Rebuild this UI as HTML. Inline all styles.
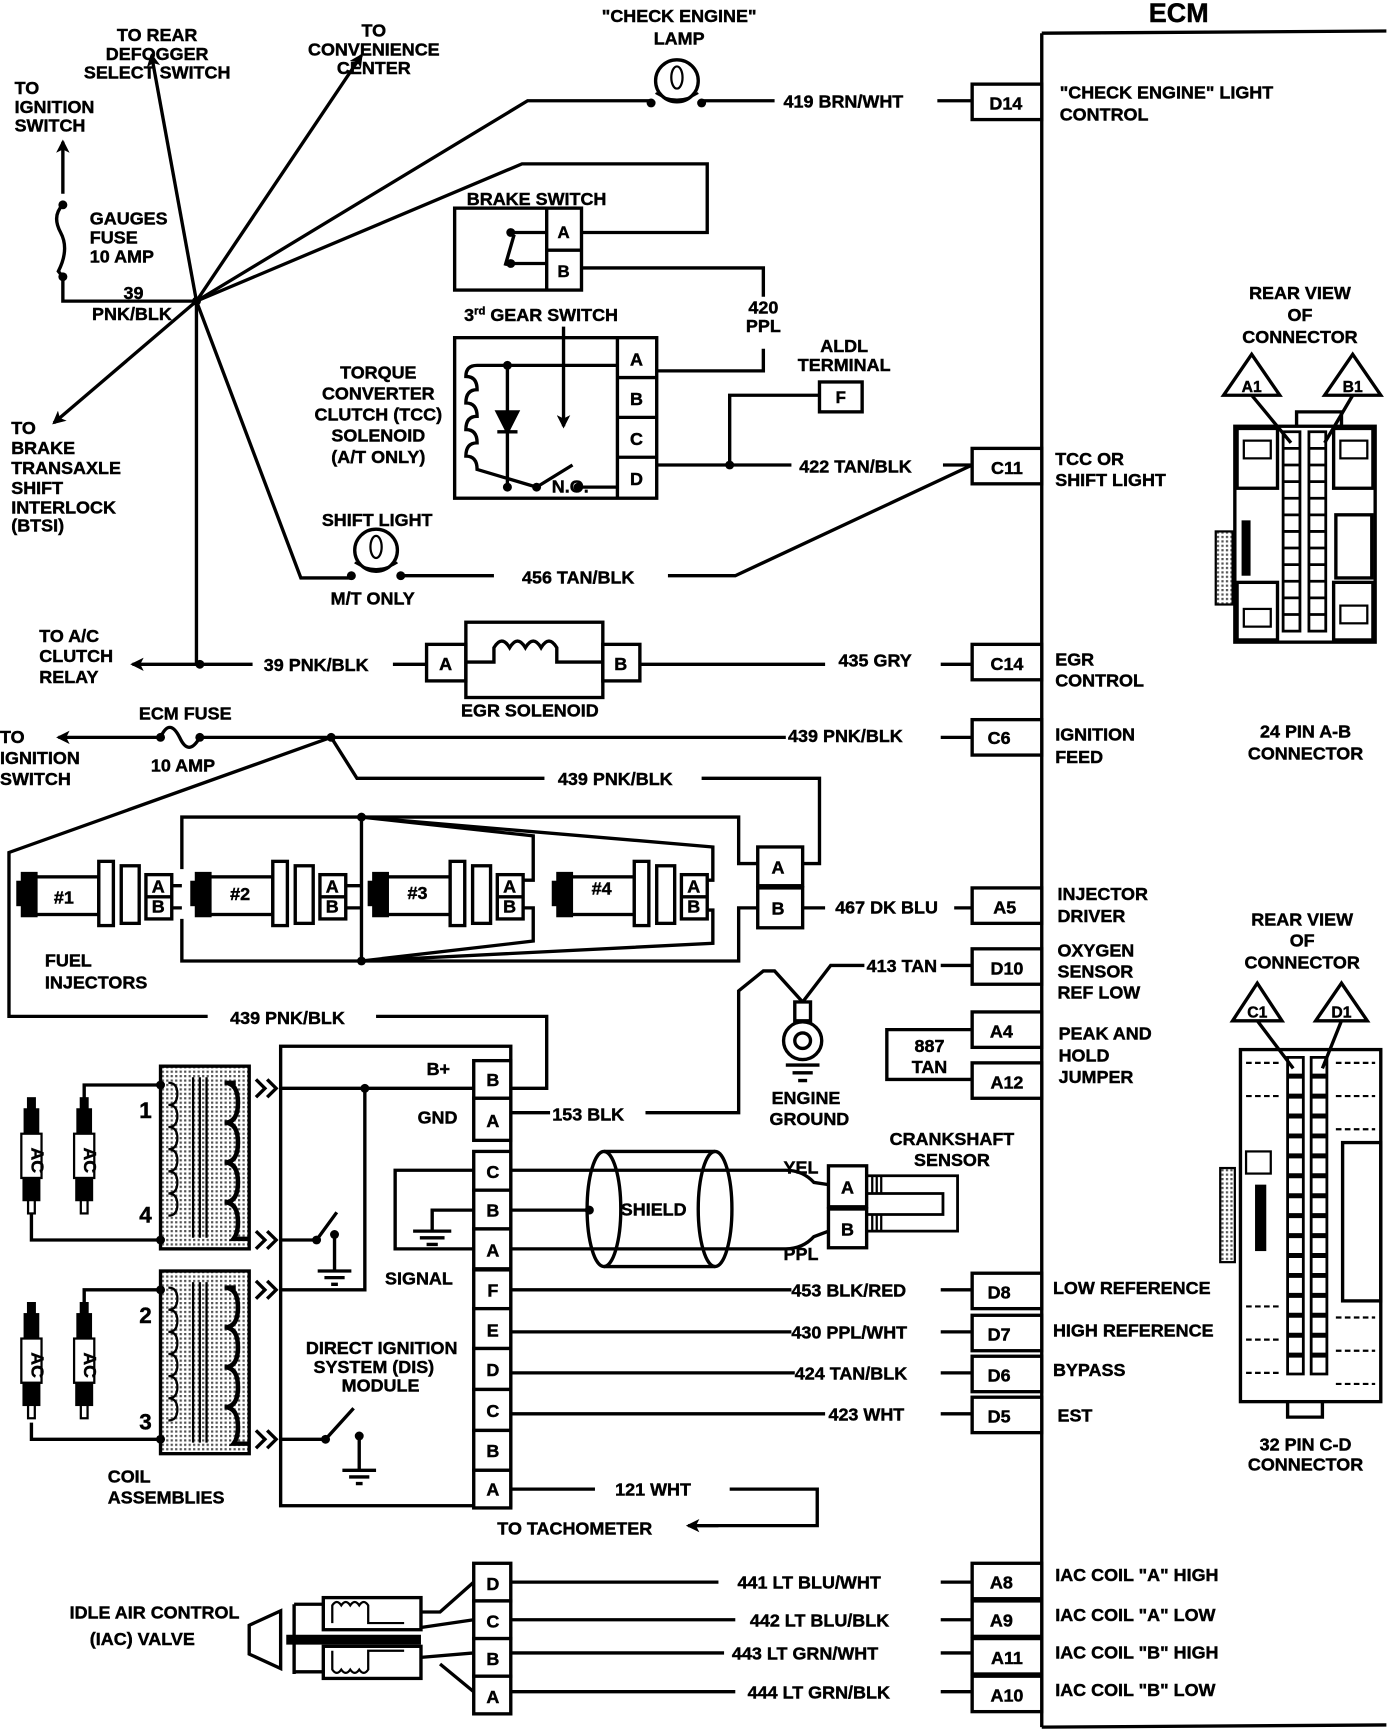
<!DOCTYPE html>
<html><head><meta charset="utf-8"><style>
html,body{margin:0;padding:0;background:#fff}
svg{display:block}
text{font-family:"Liberation Sans",sans-serif;font-weight:bold;font-size:16px;fill:#000;stroke:#000;stroke-width:0.4}
.m{text-anchor:middle}
</style></head><body>
<svg width="1392" height="1736" viewBox="0 0 1240 1568" preserveAspectRatio="none" xmlns="http://www.w3.org/2000/svg">
<defs>
<marker id="ar" markerWidth="12" markerHeight="12" refX="10" refY="6" orient="auto" markerUnits="userSpaceOnUse"><path d="M0,0 L12,6 L0,12 L3,6 Z" fill="#000"/></marker>
<pattern id="dots" width="4" height="4" patternUnits="userSpaceOnUse"><rect width="4" height="4" fill="#fff"/><rect width="2" height="2" fill="#555"/></pattern>
<g id="inj" stroke="#000" stroke-width="3" fill="#fff">
<rect x="-4" y="797" width="6" height="20" fill="#000"/>
<rect x="0" y="789" width="12" height="38" fill="#000"/>
<rect x="12" y="792" width="56" height="34"/>
<rect x="68" y="778" width="13" height="58"/>
<rect x="88" y="782" width="16" height="52"/>
<rect x="110" y="790" width="23" height="40"/>
<line x1="110" y1="810" x2="133" y2="810"/>
</g>
<g id="plug" stroke="#000" stroke-width="2" fill="#fff">
<rect x="-3" y="992" width="6" height="10" fill="#000"/>
<rect x="-6" y="1002" width="12" height="22" fill="#000"/>
<rect x="-9" y="1024" width="18" height="40"/>
<rect x="-7" y="1064" width="14" height="20" fill="#000"/>
<rect x="-3" y="1084" width="6" height="12"/>
</g>
<g id="coil" stroke="#000" stroke-width="3" fill="none">
<rect x="143" y="0" width="79" height="165" fill="url(#dots)"/>
<line x1="172" y1="10" x2="172" y2="155" stroke-width="2"/>
<line x1="178" y1="10" x2="178" y2="155" stroke-width="2"/>
<line x1="184" y1="10" x2="184" y2="155" stroke-width="2"/>
<path d="M150,15 q8,0 8,10 q0,10 -8,10 q8,0 8,10 q0,10 -8,10 q8,0 8,10 q0,10 -8,10 q8,0 8,10 q0,10 -8,10 q8,0 8,10 q0,10 -8,10 q8,0 8,10 q0,10 -8,10" stroke-width="2"/>
<path d="M210,15 h-10 v0 q12,0 12,18 q0,18 -12,18 q12,0 12,18 q0,18 -12,18 q12,0 12,18 q0,18 -12,18 q12,0 12,18 q0,10 -4,15 h14" stroke-width="4"/>
</g>
</defs>

<g stroke="#000" stroke-width="3" fill="none">
<path d="M928,30 L1235,28 M928,30 L928,1560 M928,1560 L1235,1558"/>
<g fill="#fff">
<rect x="866" y="76" width="62" height="32"/>
<rect x="866" y="405" width="62" height="32"/>
<rect x="866" y="582" width="62" height="32"/>
<rect x="866" y="650" width="62" height="32"/>
<rect x="866" y="802" width="62" height="32"/>
<rect x="866" y="857" width="62" height="32"/>
<rect x="866" y="914" width="62" height="32"/>
<rect x="866" y="960" width="62" height="32"/>
<rect x="866" y="1150" width="62" height="32"/>
<rect x="866" y="1188" width="62" height="32"/>
<rect x="866" y="1225" width="62" height="32"/>
<rect x="866" y="1262" width="62" height="32"/>
<rect x="866" y="1412" width="62" height="32"/>
<rect x="866" y="1446" width="62" height="32"/>
<rect x="866" y="1480" width="62" height="32"/>
<rect x="866" y="1514" width="62" height="32"/>
</g>

<path d="M56,175 L56,128" marker-end="url(#ar)"/>
<path d="M56,185 q-10,10 -2,25 q8,15 -2,35 L56,250"/>
<path d="M56,250 L56,272 L175,272"/>
<path d="M175,272 L135,50" marker-end="url(#ar)"/>
<path d="M175,272 L322,50" marker-end="url(#ar)"/>
<path d="M175,272 L48,382" marker-end="url(#ar)"/>
<path d="M175,272 L470,91 L580,91"/>
<path d="M175,272 L465,148 L630,148 L630,210 L518,210"/>
<path d="M175,272 L268,522 L313,522"/>
<path d="M175,272 L175,600"/>
<circle cx="603" cy="73" r="19"/>
<ellipse cx="603" cy="70" rx="5" ry="10" stroke-width="2"/>
<path d="M584,84 q19,12 38,0" stroke-width="2"/>
<path d="M625,91 L690,91 M835,91 L866,91"/>
<rect x="405" y="188" width="113" height="74"/>
<path d="M487,188 L487,262 M487,226 L518,226"/>
<path d="M455,210 L487,210 M455,238 L487,238 M458,212 L450,240"/>
<path d="M518,242 L680,242 L680,268 M680,315 L680,335 L585,335"/>
<rect x="405" y="305" width="180" height="145"/>
<path d="M550,305 L550,450 M550,341 L585,341 M550,377 L585,377 M550,413 L585,413"/>
<path d="M550,330 L425,330 q-10,0 -10,10 q10,0 10,12 q-10,0 -10,12 q10,0 10,12 q-10,0 -10,12 q10,0 10,12 q-10,0 -10,12 q10,0 10,12 L478,440 M478,440 L510,420 M515,440 L550,440 M452,330 L452,440"/>
<path d="M443,390 L461,390 M443,372 L461,372 L452,390 Z" fill="#000"/>
<path d="M502,295 L502,385" marker-end="url(#ar)"/>
<path d="M585,420 L705,420 M840,420 L866,420 M650,420 L650,357 L730,357"/>
<rect x="730" y="345" width="38" height="27"/>
<circle cx="335" cy="497" r="19"/>
<ellipse cx="335" cy="494" rx="5" ry="10" stroke-width="2"/>
<path d="M316,508 q19,12 38,0" stroke-width="2"/>
<path d="M357,520 L440,520 M595,520 L655,520 L866,420"/>
<path d="M175,600 L118,600" marker-end="url(#ar)"/>
<path d="M175,600 L225,600 M350,600 L380,600"/>
<rect x="380" y="582" width="35" height="33" fill="#fff"/>
<rect x="537" y="582" width="33" height="33" fill="#fff"/>
<rect x="415" y="562" width="122" height="68"/>
<path d="M415,598 L440,598 L440,585 q7,-12 14,0 q7,-12 14,0 q7,-12 14,0 q7,-12 14,0 L496,598 L537,598"/>
<path d="M570,600 L735,600 M838,600 L866,600"/>
<path d="M140,666 L52,666" marker-end="url(#ar)"/>
<path d="M143,666 q8,-18 17,0 q8,18 18,0 L700,666 M838,666 L866,666"/>
<path d="M295,666 L318,703 L485,703 M625,703 L730,703 L730,780 L715,780"/>
<path d="M295,666 L8,770 L8,918 L185,918 M335,918 L487,918 L487,983 L455,983"/>
<rect x="675" y="765" width="40" height="35" fill="#fff"/>
<rect x="675" y="802" width="40" height="36" fill="#fff"/>
<path d="M715,820 L735,820 M850,820 L866,820"/>
<path d="M162,785 L162,738 L658,738 L658,780 L675,780 M162,830 L162,868 L658,868 L658,820 L675,820 M322,738 L322,868"/>
<path d="M322,738 L475,755 L475,795 L466,795 M322,738 L635,765 L635,795 L630,795 M322,868 L475,850 L475,820 L466,820 M322,868 L635,852 L635,822 L630,822"/>
<path d="M153,800 L162,800 M153,820 L162,820 M308,800 L322,800 M308,820 L322,820"/>
<path d="M866,872 L838,872 M770,872 L740,872 L715,905 L690,877 L680,877 L658,895 L658,1005 L575,1005 M490,1005 L455,1005"/>
<rect x="708" y="905" width="14" height="17" fill="#fff"/>
<circle cx="715" cy="940" r="17"/>
<circle cx="715" cy="940" r="7"/>
<path d="M700,962 L730,962 M706,969 L724,969 M711,976 L719,976"/>
<path d="M866,930 L790,930 L790,975 L866,975"/>
<rect x="250" y="945" width="205" height="415"/>
<g fill="#fff">
<rect x="422" y="958" width="33" height="34"/>
<rect x="422" y="992" width="33" height="38"/>
<rect x="422" y="1040" width="33" height="35"/>
<rect x="422" y="1075" width="33" height="35"/>
<rect x="422" y="1110" width="33" height="36"/>
<rect x="422" y="1147" width="33" height="35"/>
<rect x="422" y="1182" width="33" height="36"/>
<rect x="422" y="1218" width="33" height="37"/>
<rect x="422" y="1255" width="33" height="37"/>
<rect x="422" y="1292" width="33" height="36"/>
<rect x="422" y="1328" width="33" height="34"/>
</g>
<path d="M250,983 L422,983 M325,983 L325,1165 L250,1165"/>
<path d="M250,1120 L282,1120 L300,1095 M298,1115 L298,1148 M283,1148 L313,1148 M289,1154 L307,1154 M295,1160 L301,1160"/>
<path d="M250,1300 L290,1300 L315,1272 M320,1297 L320,1328 M305,1328 L335,1328 M311,1334 L329,1334 M317,1340 L323,1340"/>
<path d="M422,1057 L352,1057 L352,1128 L422,1128 M422,1093 L385,1093 L385,1112 M368,1112 L402,1112 M374,1118 L396,1118 M380,1124 L390,1124"/>
<path d="M228,975 l8,8 l-8,8 M238,975 l8,8 l-8,8 M228,1112 l8,8 l-8,8 M238,1112 l8,8 l-8,8 M228,1157 l8,8 l-8,8 M238,1157 l8,8 l-8,8 M228,1292 l8,8 l-8,8 M238,1292 l8,8 l-8,8"/>
<path d="M455,1057 L700,1057 Q715,1057 725,1068 L738,1070 M455,1128 L700,1128 Q715,1128 725,1117 L738,1112 M455,1093 L525,1093"/>
<ellipse cx="538" cy="1092" rx="15" ry="52"/>
<ellipse cx="637" cy="1092" rx="15" ry="52"/>
<path d="M538,1040 L637,1040 M538,1144 L637,1144"/>
<rect x="738" y="1053" width="34" height="37" fill="#fff"/>
<rect x="738" y="1092" width="34" height="35" fill="#fff"/>
<path d="M772,1062 L853,1062 L853,1112 L772,1112 M772,1078 L840,1078 L840,1097 L772,1097" stroke-width="2.5"/>
<path d="M777,1062 v16 M781,1062 v16 M785,1062 v16 M777,1097 v15 M781,1097 v15 M785,1097 v15" stroke-width="2"/>
<path d="M455,1165 L705,1165 M838,1165 L866,1165 M455,1203 L705,1203 M838,1203 L866,1203 M455,1240 L708,1240 M838,1240 L866,1240 M455,1277 L735,1277 M838,1277 L866,1277"/>
<path d="M455,1345 L530,1345 M650,1345 L728,1345 L728,1378 L615,1378"/>
<path d="M640,1378 L613,1378" marker-end="url(#ar)"/>
<use href="#coil" transform="translate(0,963)"/>
<use href="#coil" transform="translate(0,1148)"/>
<path d="M143,980 L75,980 L75,995 M143,1120 L28,1120 L28,1095 M143,1165 L75,1165 L75,1178 M143,1300 L28,1300 L28,1285"/>
<g fill="#fff">
<rect x="422" y="1412" width="33" height="34"/>
<rect x="422" y="1446" width="33" height="34"/>
<rect x="422" y="1480" width="33" height="34"/>
<rect x="422" y="1514" width="33" height="34"/>
</g>
<path d="M455,1429 L640,1429 M838,1429 L866,1429 M455,1463 L655,1463 M838,1463 L866,1463 M455,1493 L645,1493 M838,1493 L866,1493 M455,1528 L655,1528 M838,1528 L866,1528"/>
<rect x="288" y="1443" width="87" height="29"/>
<rect x="288" y="1487" width="87" height="29"/>
<path d="M296,1466 L296,1450 q4,-6 8,0 q4,-6 8,0 q4,-6 8,0 q4,-6 8,0 L328,1466 L360,1466 M296,1491 L296,1508 q4,6 8,0 q4,6 8,0 q4,6 8,0 q4,6 8,0 L328,1491 L360,1491" stroke-width="2"/>
<path d="M255,1481 L375,1481" stroke-width="9"/>
<path d="M222,1468 L250,1455 L250,1507 L222,1494 Z"/>
<path d="M262,1449 L288,1449 M262,1510 L288,1510 M262,1449 L262,1512"/>
<path d="M375,1456 L392,1456 L422,1429 M375,1470 L422,1463 M375,1497 L422,1493 M392,1503 L422,1528"/>

<path d="M1115,320 L1090,357 L1140,357 Z M1205,320 L1180,357 L1230,357 Z"/>
<path d="M1115,357 L1150,400 M1205,357 L1180,400"/>
<rect x="1100" y="385" width="125" height="195"/>
<path d="M1155,385 L1155,372 L1195,372 L1195,385" />
<rect x="1102" y="387" width="36" height="54"/>
<rect x="1108" y="398" width="24" height="16" stroke-width="2"/>
<rect x="1102" y="526" width="36" height="52"/>
<rect x="1108" y="550" width="24" height="16" stroke-width="2"/>
<rect x="1188" y="387" width="35" height="54"/>
<rect x="1194" y="398" width="24" height="16" stroke-width="2"/>
<rect x="1188" y="526" width="35" height="52"/>
<rect x="1194" y="547" width="24" height="16" stroke-width="2"/>
<rect x="1190" y="465" width="32" height="57"/>
<rect x="1083" y="480" width="15" height="66" fill="url(#dots)" stroke-width="2"/>
<rect x="1106" y="470" width="8" height="50" fill="#000" stroke="none"/>
<g stroke-width="2.5">
<path d="M1143,390 h15 v15 h-15 z M1143,405 h15 v15 h-15 z M1143,420 h15 v15 h-15 z M1143,435 h15 v15 h-15 z M1143,450 h15 v15 h-15 z M1143,465 h15 v15 h-15 z M1143,480 h15 v15 h-15 z M1143,495 h15 v15 h-15 z M1143,510 h15 v15 h-15 z M1143,525 h15 v15 h-15 z M1143,540 h15 v15 h-15 z M1143,555 h15 v15 h-15 z"/>
<path d="M1166,390 h15 v15 h-15 z M1166,405 h15 v15 h-15 z M1166,420 h15 v15 h-15 z M1166,435 h15 v15 h-15 z M1166,450 h15 v15 h-15 z M1166,465 h15 v15 h-15 z M1166,480 h15 v15 h-15 z M1166,495 h15 v15 h-15 z M1166,510 h15 v15 h-15 z M1166,525 h15 v15 h-15 z M1166,540 h15 v15 h-15 z M1166,555 h15 v15 h-15 z"/>
</g>
<path d="M1120,888 L1098,922 L1142,922 Z M1195,888 L1172,922 L1218,922 Z"/>
<path d="M1120,922 L1152,965 M1195,922 L1178,965"/>
<rect x="1105" y="948" width="125" height="318"/>
<rect x="1196" y="1032" width="34" height="143"/>
<rect x="1087" y="1055" width="13" height="85" fill="url(#dots)" stroke-width="2"/>
<rect x="1110" y="1040" width="22" height="20" stroke-width="2"/>
<rect x="1118" y="1070" width="10" height="60" fill="#000" stroke="none"/>
<path d="M1147,1266 L1147,1280 L1178,1280 L1178,1266"/>
<g stroke-width="2.5">
<path d="M1147,955 h14 v16 h-14 z M1147,973 h14 v16 h-14 z M1147,991 h14 v16 h-14 z M1147,1009 h14 v16 h-14 z M1147,1027 h14 v16 h-14 z M1147,1045 h14 v16 h-14 z M1147,1063 h14 v16 h-14 z M1147,1081 h14 v16 h-14 z M1147,1099 h14 v16 h-14 z M1147,1117 h14 v16 h-14 z M1147,1135 h14 v16 h-14 z M1147,1153 h14 v16 h-14 z M1147,1171 h14 v16 h-14 z M1147,1189 h14 v16 h-14 z M1147,1207 h14 v16 h-14 z M1147,1225 h14 v16 h-14 z"/>
<path d="M1168,955 h14 v16 h-14 z M1168,973 h14 v16 h-14 z M1168,991 h14 v16 h-14 z M1168,1009 h14 v16 h-14 z M1168,1027 h14 v16 h-14 z M1168,1045 h14 v16 h-14 z M1168,1063 h14 v16 h-14 z M1168,1081 h14 v16 h-14 z M1168,1099 h14 v16 h-14 z M1168,1117 h14 v16 h-14 z M1168,1135 h14 v16 h-14 z M1168,1153 h14 v16 h-14 z M1168,1171 h14 v16 h-14 z M1168,1189 h14 v16 h-14 z M1168,1207 h14 v16 h-14 z M1168,1225 h14 v16 h-14 z"/>
</g>
<path d="M1110,960 h30 M1110,990 h30 M1110,1180 h30 M1110,1210 h30 M1110,1240 h30 M1190,960 h35 M1190,990 h35 M1190,1020 h35 M1190,1190 h35 M1190,1220 h35 M1190,1250 h35" stroke-width="2" stroke-dasharray="5,3"/>
</g>

<g fill="#000">
<circle cx="175" cy="272" r="4"/><circle cx="56" cy="185" r="4"/><circle cx="56" cy="250" r="4"/>
<circle cx="580" cy="93" r="4"/><circle cx="625" cy="93" r="4"/>
<circle cx="313" cy="520" r="4"/><circle cx="357" cy="520" r="4"/>
<circle cx="455" cy="210" r="4"/><circle cx="455" cy="238" r="4"/>
<circle cx="452" cy="330" r="4"/><circle cx="452" cy="440" r="4"/><circle cx="478" cy="440" r="4"/><circle cx="515" cy="440" r="4"/>
<circle cx="650" cy="420" r="4"/><circle cx="178" cy="600" r="4"/>
<circle cx="143" cy="666" r="4"/><circle cx="178" cy="666" r="4"/><circle cx="295" cy="666" r="4"/>
<circle cx="322" cy="738" r="4"/><circle cx="322" cy="868" r="4"/>
<circle cx="325" cy="983" r="4"/><circle cx="282" cy="1120" r="4"/><circle cx="298" cy="1115" r="4"/>
<circle cx="290" cy="1300" r="4"/><circle cx="320" cy="1297" r="4"/><circle cx="525" cy="1093" r="4"/>
<circle cx="143" cy="980" r="4"/><circle cx="143" cy="1120" r="4"/><circle cx="143" cy="1165" r="4"/><circle cx="143" cy="1300" r="4"/>
</g>
<use href="#inj" transform="translate(20,0)"/>
<use href="#inj" transform="translate(175,0)"/>
<use href="#inj" transform="translate(333,0)"/>
<use href="#inj" transform="translate(497,0)"/>
<use href="#plug" transform="translate(28,0)"/>
<use href="#plug" transform="translate(75,0)"/>
<use href="#plug" transform="translate(28,185)"/>
<use href="#plug" transform="translate(75,185)"/>

<text class="m" x="1050" y="20" style="font-size:24px">ECM</text>
<text class="m" x="605" y="20">"CHECK ENGINE"</text>
<text class="m" x="605" y="40">LAMP</text>
<text class="m" x="140" y="37">TO REAR</text>
<text class="m" x="140" y="54">DEFOGGER</text>
<text class="m" x="140" y="71">SELECT  SWITCH</text>
<text class="m" x="333" y="33">TO</text>
<text class="m" x="333" y="50">CONVENIENCE</text>
<text class="m" x="333" y="67">CENTER</text>
<text x="13" y="85">TO</text><text x="13" y="102">IGNITION</text><text x="13" y="119">SWITCH</text>
<text x="80" y="203">GAUGES</text><text x="80" y="220">FUSE</text><text x="80" y="237">10 AMP</text>
<text x="110" y="270">39</text><text x="82" y="289">PNK/BLK</text>
<text x="10" y="392">TO</text><text x="10" y="410">BRAKE</text><text x="10" y="428">TRANSAXLE</text><text x="10" y="446">SHIFT</text><text x="10" y="464">INTERLOCK</text><text x="10" y="480">(BTSI)</text>
<text x="698" y="97">419 BRN/WHT</text>
<text class="m" x="896" y="99">D14</text>
<text x="944" y="89">"CHECK ENGINE" LIGHT</text><text x="944" y="109">CONTROL</text>
<text class="m" x="478" y="185">BRAKE SWITCH</text>
<text class="m" x="502" y="215" style="font-size:15px">A</text><text class="m" x="502" y="250" style="font-size:15px">B</text>
<text class="m" x="680" y="283">420</text><text class="m" x="680" y="300">PPL</text>
<text class="m" x="482" y="290">3<tspan style="font-size:10px" dy="-6">rd</tspan><tspan dy="6"> GEAR SWITCH</tspan></text>
<text class="m" x="752" y="318">ALDL</text><text class="m" x="752" y="335">TERMINAL</text>
<text class="m" x="749" y="364" style="font-size:15px">F</text>
<text class="m" x="337" y="342">TORQUE</text><text class="m" x="337" y="361">CONVERTER</text><text class="m" x="337" y="380">CLUTCH (TCC)</text><text class="m" x="337" y="399">SOLENOID</text><text class="m" x="337" y="418">(A/T ONLY)</text>
<text class="m" x="567" y="330">A</text><text class="m" x="567" y="366">B</text><text class="m" x="567" y="402">C</text><text class="m" x="567" y="438">D</text>
<text class="m" x="508" y="445">N.O.</text>
<text x="712" y="427">422 TAN/BLK</text>
<text class="m" x="897" y="428">C11</text>
<text x="940" y="420">TCC OR</text><text x="940" y="439">SHIFT LIGHT</text>
<text class="m" x="336" y="475">SHIFT LIGHT</text>
<text class="m" x="332" y="546">M/T ONLY</text>
<text x="465" y="527">456 TAN/BLK</text>
<text x="35" y="580">TO A/C</text><text x="35" y="598">CLUTCH</text><text x="35" y="617">RELAY</text>
<text x="235" y="606">39 PNK/BLK</text>
<text class="m" x="397" y="605">A</text><text class="m" x="553" y="605">B</text>
<text class="m" x="472" y="647">EGR SOLENOID</text>
<text x="747" y="602">435 GRY</text>
<text class="m" x="897" y="605">C14</text>
<text x="940" y="601">EGR</text><text x="940" y="620">CONTROL</text>
<text class="m" x="165" y="650">ECM FUSE</text>
<text class="m" x="163" y="697">10 AMP</text>
<text x="0" y="671">TO</text><text x="0" y="690">IGNITION</text><text x="0" y="709">SWITCH</text>
<text x="702" y="670">439 PNK/BLK</text>
<text class="m" x="890" y="672">C6</text>
<text x="940" y="669">IGNITION</text><text x="940" y="689">FEED</text>
<text x="497" y="709">439 PNK/BLK</text>
<text class="m" x="693" y="789">A</text><text class="m" x="693" y="826">B</text>
<text x="744" y="825">467 DK BLU</text>
<text class="m" x="895" y="825">A5</text>
<text x="942" y="813">INJECTOR</text><text x="942" y="833">DRIVER</text>
<text x="48" y="816">#1</text><text x="205" y="813">#2</text><text x="363" y="812">#3</text><text x="527" y="808">#4</text>
<g style="font-size:11px"><text class="m" x="141" y="806">A</text><text class="m" x="141" y="824">B</text><text class="m" x="296" y="806">A</text><text class="m" x="296" y="824">B</text><text class="m" x="454" y="806">A</text><text class="m" x="454" y="824">B</text><text class="m" x="618" y="806">A</text><text class="m" x="618" y="824">B</text></g>
<text x="40" y="873">FUEL</text><text x="40" y="893">INJECTORS</text>
<text x="772" y="878">413 TAN</text>
<text class="m" x="897" y="880">D10</text>
<text x="942" y="864">OXYGEN</text><text x="942" y="883">SENSOR</text><text x="942" y="902">REF LOW</text>
<text x="205" y="925">439 PNK/BLK</text>
<text class="m" x="892" y="937">A4</text><text class="m" x="897" y="983">A12</text>
<text class="m" x="828" y="950">887</text><text class="m" x="828" y="969">TAN</text>
<text x="943" y="939">PEAK AND</text><text x="943" y="959">HOLD</text><text x="943" y="978">JUMPER</text>
<text class="m" x="718" y="997">ENGINE</text><text class="m" x="721" y="1016">GROUND</text>
<text x="492" y="1012">153 BLK</text>
<text class="m" x="848" y="1034">CRANKSHAFT</text><text class="m" x="848" y="1053">SENSOR</text>
<text x="380" y="971">B+</text><text x="372" y="1015">GND</text>
<text class="m" x="439" y="981">B</text><text class="m" x="439" y="1018">A</text><text class="m" x="439" y="1064">C</text><text class="m" x="439" y="1099">B</text><text class="m" x="439" y="1135">A</text><text class="m" x="439" y="1171">F</text><text class="m" x="439" y="1207">E</text><text class="m" x="439" y="1243">D</text><text class="m" x="439" y="1280">C</text><text class="m" x="439" y="1316">B</text><text class="m" x="439" y="1351">A</text>
<text x="343" y="1160">SIGNAL</text>
<text class="m" x="340" y="1223">DIRECT IGNITION</text><text class="m" x="333" y="1240">SYSTEM (DIS)</text><text class="m" x="339" y="1257">MODULE</text>
<text x="553" y="1098">SHIELD</text>
<text x="698" y="1060">YEL</text><text x="698" y="1138">PPL</text>
<text class="m" x="755" y="1078">A</text><text class="m" x="755" y="1116">B</text>
<text x="705" y="1171">453 BLK/RED</text><text class="m" x="890" y="1173">D8</text><text x="938" y="1169">LOW REFERENCE</text>
<text x="705" y="1209">430 PPL/WHT</text><text class="m" x="890" y="1211">D7</text><text x="938" y="1207">HIGH REFERENCE</text>
<text x="708" y="1246">424 TAN/BLK</text><text class="m" x="890" y="1248">D6</text><text x="938" y="1243">BYPASS</text>
<text x="738" y="1283">423 WHT</text><text class="m" x="890" y="1285">D5</text><text x="942" y="1284">EST</text>
<text x="548" y="1351">121 WHT</text>
<text x="443" y="1386">TO TACHOMETER</text>
<text x="124" y="1010" style="font-size:20px">1</text><text x="124" y="1104" style="font-size:20px">4</text><text x="124" y="1195" style="font-size:20px">2</text><text x="124" y="1291" style="font-size:20px">3</text>
<text x="96" y="1339">COIL</text><text x="96" y="1358">ASSEMBLIES</text>
<text x="62" y="1462">IDLE AIR CONTROL</text><text x="80" y="1486">(IAC) VALVE</text>
<text class="m" x="439" y="1436">D</text><text class="m" x="439" y="1470">C</text><text class="m" x="439" y="1504">B</text><text class="m" x="439" y="1538">A</text>
<text x="657" y="1435">441 LT BLU/WHT</text><text class="m" x="892" y="1435">A8</text><text x="940" y="1428">IAC COIL "A" HIGH</text>
<text x="668" y="1469">442 LT BLU/BLK</text><text class="m" x="892" y="1469">A9</text><text x="940" y="1464">IAC COIL "A" LOW</text>
<text x="652" y="1499">443 LT GRN/WHT</text><text class="m" x="897" y="1503">A11</text><text x="940" y="1498">IAC COIL "B" HIGH</text>
<text x="666" y="1534">444 LT GRN/BLK</text><text class="m" x="897" y="1537">A10</text><text x="940" y="1532">IAC COIL "B" LOW</text>
<text class="m" x="1158" y="270">REAR VIEW</text><text class="m" x="1158" y="290">OF</text><text class="m" x="1158" y="310">CONNECTOR</text>
<text class="m" x="1115" y="354" style="font-size:14px">A1</text><text class="m" x="1205" y="354" style="font-size:14px">B1</text>
<text class="m" x="1163" y="666">24 PIN  A-B</text><text class="m" x="1163" y="686">CONNECTOR</text>
<text class="m" x="1160" y="836">REAR VIEW</text><text class="m" x="1160" y="855">OF</text><text class="m" x="1160" y="875">CONNECTOR</text>
<text class="m" x="1120" y="919" style="font-size:14px">C1</text><text class="m" x="1195" y="919" style="font-size:14px">D1</text>
<text class="m" x="1163" y="1310">32  PIN C-D</text><text class="m" x="1163" y="1328">CONNECTOR</text>
<g style="font-size:11px"><text class="m" x="28" y="1048" transform="rotate(90 28 1048)">AC</text><text class="m" x="75" y="1048" transform="rotate(90 75 1048)">AC</text><text class="m" x="28" y="1233" transform="rotate(90 28 1233)">AC</text><text class="m" x="75" y="1233" transform="rotate(90 75 1233)">AC</text></g>
</svg>
</body></html>
